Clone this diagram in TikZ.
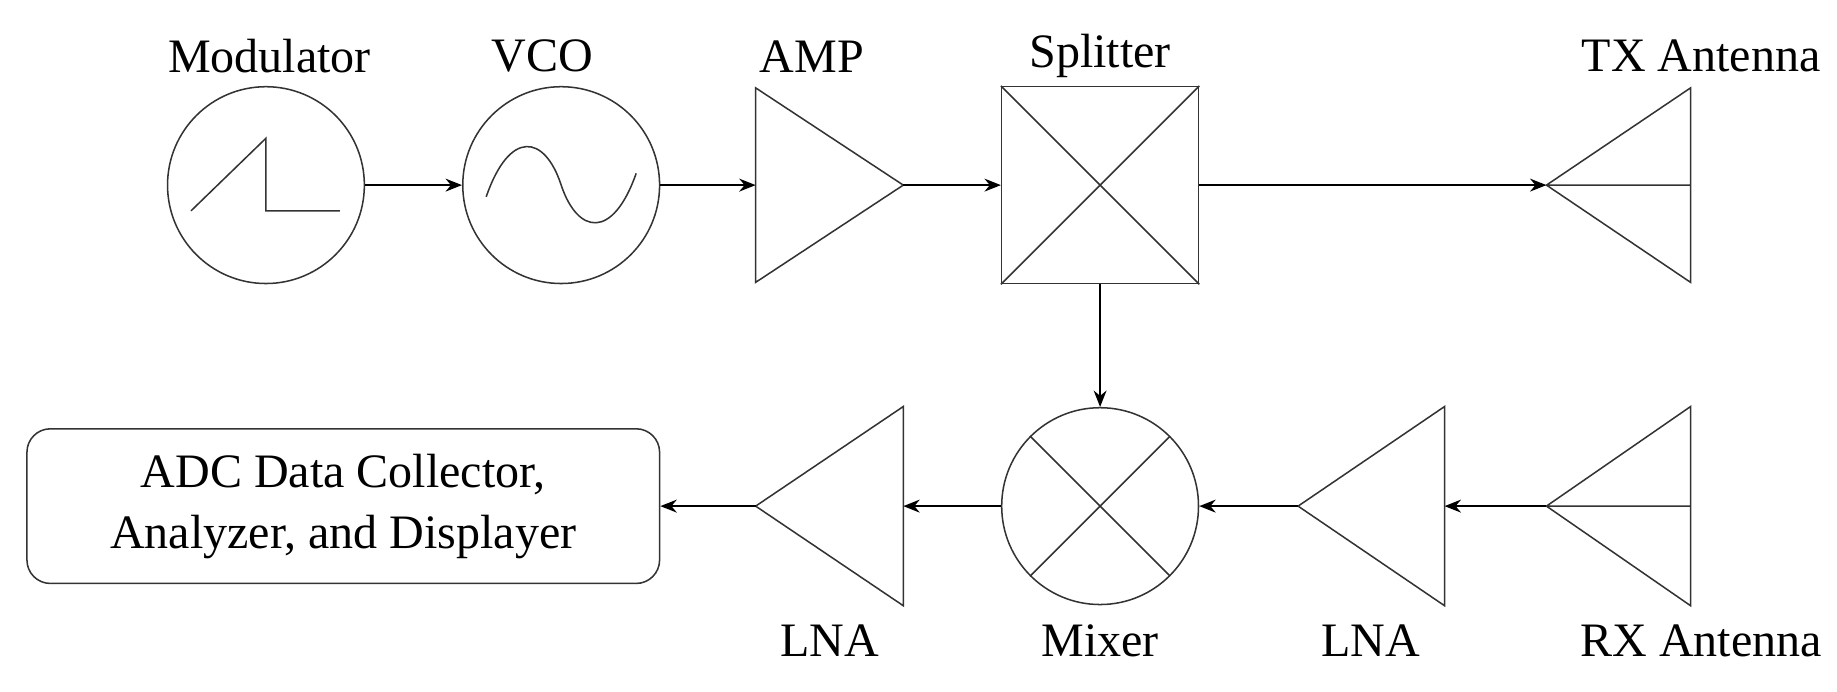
\documentclass[tikz,border=0pt]{standalone}
\usepackage{fontspec}
\setmainfont{Liberation Serif}
\usetikzlibrary{arrows.meta}
\begin{document}
\begin{tikzpicture}[x=1pt,y=-1pt,
  comp/.style={draw=black!80,line width=1.3pt},
  blk/.style={circle,draw=black!80,line width=1.3pt,minimum size=168pt,inner sep=0pt},
  conn/.style={line width=1.8pt,-{Stealth[length=14pt,width=11pt]}},
  lbl/.style={font=\fontsize{41}{45}\selectfont,inner sep=0pt}]
\useasboundingbox (0,0) rectangle (1568,590);
% top row
\node[blk] (mod) at (227,158) {};
\draw[comp] (163,180) -- (227,118) -- (227,180) -- (290,180);
\node[blk] (vco) at (479,158) {};
\draw[comp] (415,168) .. controls (435,110) and (465,115) .. (479,158) .. controls (493,200) and (523,205) .. (543,148);
\coordinate (ampin) at (645,158); \coordinate (ampout) at (771,158);
\draw[comp] (645,75) -- (771,158) -- (645,241) -- cycle;
\node[draw=black!80,line width=1.3pt,minimum size=168pt,inner sep=0pt] (spl) at (939,158) {};
\draw[comp] (spl.north west) -- (spl.south east) (spl.north east) -- (spl.south west);
\coordinate (tx) at (1320,158);
\draw[comp] (1443,75) -- (1320,158) -- (1443,241) -- cycle (1320,158) -- (1443,158);
% bottom row
\node[blk] (mix) at (939,432) {};
\draw[comp] (mix.north west) -- (mix.south east) (mix.north east) -- (mix.south west);
\coordinate (rx) at (1320,432);
\draw[comp] (1443,347) -- (1320,432) -- (1443,517) -- cycle (1320,432) -- (1443,432);
\coordinate (lna1in) at (1233,432); \coordinate (lna1out) at (1108,432);
\draw[comp] (1233,347) -- (1108,432) -- (1233,517) -- cycle;
\coordinate (lna2in) at (771,432); \coordinate (lna2out) at (645,432);
\draw[comp] (771,347) -- (645,432) -- (771,517) -- cycle;
\node[draw=black!80,line width=1.3pt,rounded corners=20pt,minimum width=540pt,minimum height=132pt,align=center,font=\fontsize{41}{52}\selectfont] (adc) at (293,432) {ADC Data Collector,\\Analyzer, and Displayer};
% connectors
\draw[conn] (mod.east) -- (vco.west);
\draw[conn] (vco.east) -- (ampin);
\draw[conn] (ampout) -- (spl.west);
\draw[conn] (spl.east) -- (tx);
\draw[conn,line width=1.3pt] (spl.south) -- (mix.north);
\draw[conn] (rx) -- (lna1in);
\draw[conn] (lna1out) -- (mix.east);
\draw[conn] (mix.west) -- (lna2in);
\draw[conn] (lna2out) -- (adc.east);
% labels
\node[lbl] (l1) at (230,48) {Modulator};
\node[lbl] (l2) at (463,48) {VCO};
\node[lbl] (l3) at (693,48) {AMP};
\node[lbl] (l4) at (939,48) {Splitter};
\node[lbl] (l5) at (1452,48) {TX Antenna};
\node[lbl] (l6) at (708,547) {LNA};
\node[lbl] (l7) at (939,547) {Mixer};
\node[lbl] (l8) at (1170,547) {LNA};
\node[lbl] (l9) at (1452,547) {RX Antenna};
\end{tikzpicture}
\end{document}
